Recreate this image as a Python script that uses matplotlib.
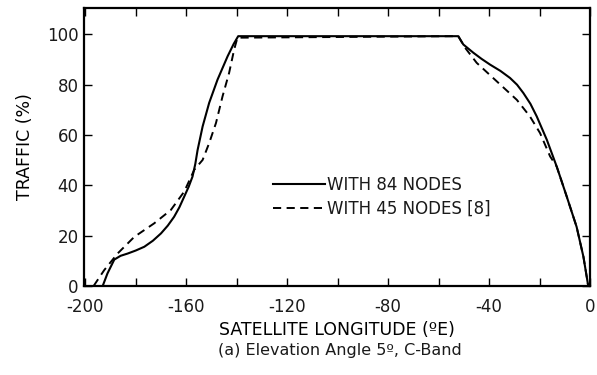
import numpy as np
import matplotlib
matplotlib.use('Agg')
import matplotlib.pyplot as plt

plt.rcParams['font.family'] = ['DejaVu Sans']
plt.rcParams['text.color'] = '#1a1a1a'

# traffic vs satellite longitude, 84-node network
lon_84 = [-193.1, -191.2, -188.5, -186, -183.2, -180, -176.6, -173.2, -170, -167.3,
          -164.8, -162.7, -160.8, -159, -157.5, -156.4, -155.5, -153.5, -150.9,
          -147.6, -143.6, -141.2, -139.4,
          -52.2, -50.2, -46.2, -43, -39.6, -35.5, -31.7, -28.9, -26.4, -23.6,
          -21.1, -17.1, -13.2, -9.2, -5.3, -2.6, -0.7]
traffic_84 = [0, 5, 10.5, 12, 12.9, 14.1, 15.6, 18, 20.9, 24,
              27.5, 31.3, 35.5, 39.5, 43.5, 48.5, 54, 63.4, 72.8,
              82, 91.3, 96.2, 99.3,
              99.3, 96, 92.7, 90.3, 88, 85.5, 82.7, 80, 76.7, 72.4,
              67.4, 58.1, 47.5, 35.5, 23.5, 11.6, 0]

# traffic vs satellite longitude, 45-node network
lon_45 = [-196.7, -192.5, -187.2, -180.6, -172.7, -166.1, -160.8, -156.8,
          -153.5, -150.9, -148.2, -145.6, -143, -141, -139.7,
          -52.2, -49.5, -44.9, -37, -29, -23.8, -19.8, -15.8, -13.2,
          -9.2, -5.3, -2.6, -0.7]
traffic_45 = [0, 6.3, 12.9, 19.5, 24.9, 30.2, 37.5, 46.2,
              50.1, 56.8, 64.8, 75.4, 84.7, 94, 98.7,
              99.3, 94.7, 88.7, 81.4, 74, 67.4, 60.8, 51.5, 47.5,
              35.5, 23.5, 11.6, 0]

x_ticks = [-200, -180, -160, -140, -120, -100, -80, -60, -40, -20, 0]
x_labels = ['-200', '', '-160', '', '-120', '', '-80', '', '-40', '', '0']
y_ticks = [0, 20, 40, 60, 80, 100]

fig = plt.figure(figsize=(5.97, 3.75), dpi=100)
ax = fig.add_axes([84 / 597, 89 / 375, 506 / 597, 278 / 375])

ax.plot(lon_84, traffic_84, color='black', lw=1.5, solid_joinstyle='round',
        label='WITH 84 NODES')
ax.plot(lon_45, traffic_45, color='black', lw=1.4, dashes=(4.2, 2.8),
        label='WITH 45 NODES [8]')

ax.set_xlim(-200.5, 0)
ax.set_ylim(0, 110.5)
ax.set_xticks(x_ticks)
ax.set_xticklabels(x_labels)
ax.set_yticks(y_ticks)
ax.tick_params(direction='in', length=6, width=1, top=True, right=True,
               labelsize=12, colors='black', labelcolor='#1a1a1a')
ax.tick_params(axis='x', pad=9)
ax.tick_params(axis='y', pad=4)

for s in ax.spines.values():
    s.set_linewidth(1.6)

ax.set_ylabel('TRAFFIC (%)', fontsize=12.5, labelpad=9)
ax.set_xlabel('SATELLITE LONGITUDE (ºE)', fontsize=12.5, labelpad=3)

leg = ax.legend(loc='center left', bbox_to_anchor=(0.343, 0.32), frameon=False,
                fontsize=12, handlelength=3.15, handletextpad=0.1,
                labelspacing=0.35)

fig.text(340 / 597, 1 - 351 / 375, '(a) Elevation Angle 5º, C-Band',
         ha='center', va='center', fontsize=11.5)

fig.savefig('out.png', dpi=100)
